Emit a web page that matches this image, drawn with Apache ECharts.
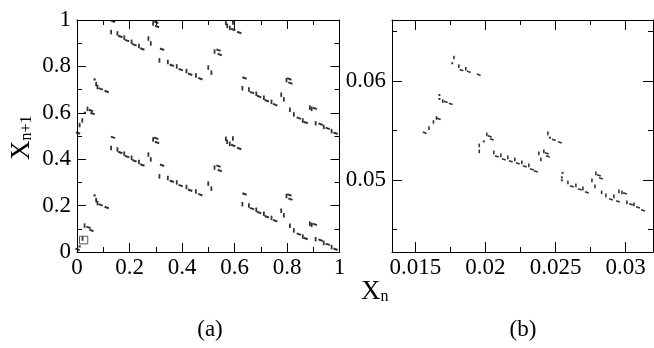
<!DOCTYPE html>
<html><head><meta charset="utf-8">
<script src="https://cdn.jsdelivr.net/npm/echarts@6/dist/echarts.min.js"></script>
<style>html,body{margin:0;padding:0;background:#fff}#c{width:654px;height:348px}</style>
</head><body><div id="c"></div>
<script>
// ---------- DATA ----------
// panel (a): full return map, X_n vs X_{n+1}
const aTicks = [
 [0.130,0.948],[0.154,0.942],[0.180,0.924],[0.208,0.906],[0.236,0.888],[0.272,0.920],[0.281,0.899],[0.290,0.985],
 [0.314,0.826],[0.346,0.819],[0.380,0.800],[0.417,0.780],[0.453,0.761],[0.500,0.795],[0.512,0.773],[0.524,0.864],
 [0.130,0.448],[0.154,0.442],[0.180,0.424],[0.208,0.406],[0.236,0.388],[0.272,0.420],[0.281,0.399],[0.290,0.485],
 [0.314,0.326],[0.346,0.319],[0.380,0.300],[0.417,0.280],[0.453,0.261],[0.500,0.295],[0.512,0.273],[0.524,0.364],
 [0.630,0.706],[0.655,0.700],[0.683,0.682],[0.712,0.665],[0.741,0.647],[0.778,0.678],[0.788,0.658],[0.798,0.741],
 [0.630,0.206],[0.655,0.200],[0.683,0.182],[0.712,0.165],[0.741,0.147],[0.778,0.178],[0.788,0.158],[0.798,0.241],
 [0.811,0.613],[0.826,0.593],[0.860,0.567],[0.887,0.622],[0.894,0.617],[0.909,0.555],[0.940,0.539],[0.970,0.521],
 [0.811,0.113],[0.826,0.093],[0.860,0.067],[0.887,0.122],[0.894,0.117],[0.909,0.055],[0.940,0.039],[0.970,0.021],
 [0.567,0.988],[0.572,0.975],[0.582,0.966],[0.594,0.989],
 [0.567,0.488],[0.572,0.475],[0.582,0.466],[0.594,0.489],
 [0.073,0.724],[0.078,0.711],[0.073,0.224],[0.078,0.211],
 [0.040,0.617],[0.020,0.567],[0.010,0.547],
 [0.029,0.114],[0.021,0.058]
];
const aDashes = [
 [0.137,0.994],[0.165,0.929],[0.191,0.911],[0.219,0.893],[0.249,0.875],[0.302,0.990],[0.305,0.972],
 [0.324,0.874],[0.361,0.805],[0.395,0.786],[0.431,0.766],[0.470,0.747],[0.539,0.870],[0.544,0.851],
 [0.137,0.494],[0.165,0.429],[0.191,0.411],[0.219,0.393],[0.249,0.375],[0.302,0.490],[0.305,0.472],
 [0.324,0.374],[0.361,0.305],[0.395,0.286],[0.431,0.266],[0.470,0.247],[0.539,0.370],[0.544,0.351],
 [0.638,0.750],[0.667,0.687],[0.694,0.670],[0.723,0.652],[0.755,0.635],[0.809,0.746],[0.813,0.728],
 [0.638,0.250],[0.667,0.187],[0.694,0.170],[0.723,0.152],[0.755,0.135],[0.809,0.246],[0.813,0.228],
 [0.845,0.577],[0.871,0.558],[0.906,0.619],[0.928,0.551],[0.955,0.533],[0.985,0.512],
 [0.845,0.077],[0.871,0.058],[0.906,0.119],[0.928,0.051],[0.955,0.033],[0.985,0.012],
 [0.595,0.959],[0.618,0.946],[0.595,0.459],[0.618,0.446],
 [0.090,0.703],[0.113,0.692],[0.090,0.203],[0.113,0.192],
 [0.053,0.610],[0.059,0.597],[0.004,0.513],
 [0.044,0.106],[0.055,0.093],[0.002,0.011]
];
const aDots = [[0.067,0.744],[0.067,0.244],[0.030,0.600],[0.010,0.024]];
const zoomBoxX = [0.0095, 0.041];
const zoomBoxY = [0.035, 0.068];

// panel (b): magnified region
const bTicks = [
 [0.015964,0.055222],[0.016286,0.055847],[0.016500,0.056250],[0.016950,0.057944],[0.017750,0.062349],[0.018093,0.061472],
 [0.018593,0.061210],[0.019557,0.053478],[0.019557,0.052873],[0.020093,0.054587],[0.020593,0.052772],[0.021093,0.052470],
 [0.021593,0.052268],[0.022093,0.052067],[0.022593,0.051764],[0.023093,0.051462],[0.023807,0.052671],[0.023950,0.052067],
 [0.024164,0.052873],[0.024450,0.054688],[0.025879,0.049748],[0.026450,0.049446],[0.026950,0.049143],[0.027593,0.049950],
 [0.027807,0.049345],[0.027879,0.050656],[0.028286,0.048740],[0.028593,0.048438],[0.029164,0.048337],[0.029521,0.048841],
 [0.029736,0.048740],[0.030093,0.047732],[0.030593,0.047530]
];
const bDashes = [
 [0.015664,0.054758],[0.016664,0.056149],[0.017164,0.057863],[0.017521,0.057661],[0.018286,0.061069],[0.018807,0.060907],
 [0.019521,0.060605],[0.020307,0.054385],[0.020450,0.054083],[0.020807,0.052369],[0.021307,0.052067],[0.021807,0.051865],
 [0.022307,0.051663],[0.022807,0.051361],[0.023307,0.051059],[0.023593,0.050857],[0.024379,0.052671],[0.024450,0.052369],
 [0.024879,0.054032],[0.025307,0.053780],[0.026164,0.049345],[0.026736,0.049043],[0.027236,0.048740],[0.028093,0.050454],
 [0.028236,0.050152],[0.028950,0.048035],[0.029450,0.047833],[0.029950,0.048639],[0.030379,0.047530],[0.030879,0.047228],
 [0.031236,0.046926]
];
const bDots = [[0.016714,0.058569],[0.016714,0.058165],[0.017629,0.061764],[0.019878,0.053881],[0.024593,0.054254],
 [0.025500,0.050706],[0.025450,0.050252],[0.025450,0.049950]];

// axis ranges and tick values
const aRange = [0, 1];
const aInterval = 0.2;
const bXRange = [0.01333, 0.03195];
const bYRange = [0.04272, 0.06613];
const bXMajor = [0.015, 0.02, 0.025, 0.03];
const bXMinor = [0.0175, 0.0225, 0.0275];
const bYMajor = [0.05, 0.06];
const bYMinor = [0.045, 0.055, 0.065];

// ---------- CHART ----------
const FONT = "'Liberation Serif', 'Times New Roman', serif";
const chart = echarts.init(document.getElementById('c'), null, {renderer: 'canvas'});
const lineStyle = {color: '#000', width: 1};
const lbl = {color: '#000', fontFamily: FONT, fontSize: 23};
const fmt = v => String(parseFloat(Number(v).toFixed(4)));

function aAxis(pos, showLabel, grid) {
  return {
    type: 'value', gridIndex: grid, position: pos, min: aRange[0], max: aRange[1], interval: aInterval,
    axisLine: {show: true, onZero: false, lineStyle},
    axisTick: {show: true, inside: true, length: 9, lineStyle},
    minorTick: {show: true, splitNumber: 2, length: 5, lineStyle},
    axisLabel: Object.assign({show: showLabel, margin: pos === 'left' ? 6 : 4, formatter: fmt}, lbl),
    splitLine: {show: false}, minorSplitLine: {show: false}
  };
}
function bAxis(pos, range, vals, len, showLabel, showLine) {
  return {
    type: 'value', gridIndex: 1, position: pos, min: range[0], max: range[1],
    axisLine: {show: showLine, onZero: false, lineStyle},
    axisTick: {show: true, inside: true, length: len, lineStyle, customValues: vals},
    axisLabel: Object.assign({show: showLabel, margin: pos === 'left' ? 6 : 4, formatter: fmt, customValues: vals}, lbl),
    splitLine: {show: false}
  };
}

const sym = {symbol: 'rect', itemStyle: {color: '#000'}, silent: true, animation: false};

chart.setOption({
  animation: false,
  backgroundColor: '#fff',
  grid: [
    {left: 77, top: 20, width: 262.5, height: 232},
    {left: 392, top: 20, width: 261, height: 232}
  ],
  xAxis: [
    aAxis('bottom', true, 0), aAxis('top', false, 0),
    bAxis('bottom', bXRange, bXMajor, 10, true, true),
    bAxis('bottom', bXRange, bXMinor, 5, false, false),
    bAxis('top', bXRange, bXMajor, 10, false, true),
    bAxis('top', bXRange, bXMinor, 5, false, false)
  ],
  yAxis: [
    aAxis('left', true, 0), aAxis('right', false, 0),
    bAxis('left', bYRange, bYMajor, 10, true, true),
    bAxis('left', bYRange, bYMinor, 5, false, false),
    bAxis('right', bYRange, bYMajor, 10, false, true),
    bAxis('right', bYRange, bYMinor, 5, false, false)
  ],
  series: [
    Object.assign({type: 'scatter', xAxisIndex: 0, yAxisIndex: 0, data: aTicks, symbolSize: [1.8, 4.5]}, sym),
    Object.assign({type: 'scatter', xAxisIndex: 0, yAxisIndex: 0, data: aDashes, symbolSize: [4.5, 2], symbolRotate: -20}, sym),
    Object.assign({type: 'scatter', xAxisIndex: 0, yAxisIndex: 0, data: aDots, symbolSize: [2.2, 2.2]}, sym),
    {type: 'line', xAxisIndex: 0, yAxisIndex: 0, silent: true, symbol: 'none', animation: false,
     lineStyle: {color: '#555', width: 1},
     data: [[zoomBoxX[0], zoomBoxY[0]], [zoomBoxX[1], zoomBoxY[0]], [zoomBoxX[1], zoomBoxY[1]], [zoomBoxX[0], zoomBoxY[1]], [zoomBoxX[0], zoomBoxY[0]]]},
    Object.assign({type: 'scatter', xAxisIndex: 2, yAxisIndex: 2, data: bTicks, symbolSize: [1.6, 3.6]}, sym),
    Object.assign({type: 'scatter', xAxisIndex: 2, yAxisIndex: 2, data: bDashes, symbolSize: [4, 1.6], symbolRotate: -20}, sym),
    Object.assign({type: 'scatter', xAxisIndex: 2, yAxisIndex: 2, data: bDots, symbolSize: [2, 2]}, sym)
  ],
  graphic: [
    {type: 'text', rotation: Math.PI / 2, x: 8, y: 160, style: {text: '{x|X}{s|n+1}', rich: {
       x: {fontFamily: FONT, fontSize: 27, lineHeight: 27, verticalAlign: 'top', fill: '#000'},
       s: {fontFamily: FONT, fontSize: 16, lineHeight: 16, verticalAlign: 'bottom', padding: [15, 0, 0, 0], fill: '#000'}}}},
    {type: 'text', x: 361, y: 278, style: {text: '{x|X}{s|n}', rich: {
       x: {fontFamily: FONT, fontSize: 27, lineHeight: 27, verticalAlign: 'top', fill: '#000'},
       s: {fontFamily: FONT, fontSize: 16, lineHeight: 16, verticalAlign: 'bottom', padding: [15, 0, 0, 0], fill: '#000'}}}},
    {type: 'text', x: 210, y: 330, style: {text: '(a)', fontFamily: FONT, fontSize: 23, fill: '#000', align: 'center', verticalAlign: 'middle'}},
    {type: 'text', x: 523, y: 330, style: {text: '(b)', fontFamily: FONT, fontSize: 23, fill: '#000', align: 'center', verticalAlign: 'middle'}}
  ]
});
</script></body></html>
